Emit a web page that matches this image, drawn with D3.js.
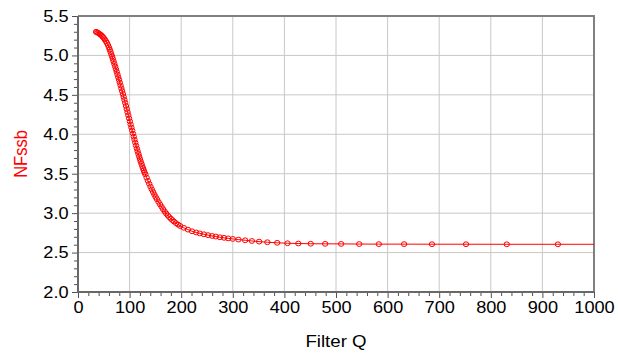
<!DOCTYPE html>
<html>
<head>
<meta charset="utf-8">
<script src="https://cdn.jsdelivr.net/npm/d3@7"></script>
<style>
body { margin: 0; background: #fff; }
svg { display: block; font-family: "Liberation Sans", Arial, sans-serif; }
</style>
</head>
<body>
<div id="chart"></div>
<script>
// Filter Q sweep
const qValues = [
    35, 36, 38, 40, 42, 44, 46, 48, 50, 52, 54, 56, 58, 60,
    61.5, 63, 64.5, 66, 67.5, 69, 70.5, 72, 73.5, 75, 76.5, 78, 79.5, 81, 82.5, 84,
    85.5, 87, 88.5, 90, 91.5, 93, 94.5, 96, 97.5, 99, 100.5, 102, 103.5, 105,
    106.5, 108, 109.5, 111, 112.5, 114, 115.5, 117, 118.5, 120, 121.5, 123, 124.5, 126,
    127.5, 129, 130.5,
    133, 135.5, 138, 140.5, 143, 145.5, 148, 150.5, 153, 156, 159, 162, 165, 168,
    171, 174, 177, 180, 183, 186, 190, 194, 198,
    205, 213, 221, 229, 236, 244, 252, 260, 267, 275, 283, 291, 300, 311, 324, 337,
    351, 367, 386, 406, 427, 451, 479, 510, 545, 583, 632, 686, 752, 831, 930, 1050
];
const nfValues = [
    5.299, 5.296, 5.289, 5.281, 5.272, 5.262, 5.250, 5.236, 5.220, 5.202, 5.182, 5.159, 5.132, 5.102,
    5.074, 5.046, 5.017, 4.987, 4.956, 4.924, 4.892, 4.859, 4.826, 4.792, 4.758, 4.724, 4.690, 4.655, 4.620, 4.584,
    4.548, 4.511, 4.474, 4.436, 4.398, 4.359, 4.320, 4.281, 4.242, 4.203, 4.164, 4.125, 4.086, 4.048,
    4.009, 3.970, 3.932, 3.894, 3.857, 3.821, 3.786, 3.752, 3.719, 3.687, 3.656, 3.626, 3.597, 3.569,
    3.542, 3.516, 3.491,
    3.450, 3.410, 3.372, 3.336, 3.301, 3.268, 3.236, 3.205, 3.176, 3.143, 3.111, 3.080, 3.050, 3.021,
    2.995, 2.971, 2.949, 2.929, 2.911, 2.894, 2.873, 2.854, 2.837,
    2.814, 2.791, 2.770, 2.755, 2.743, 2.732, 2.721, 2.711, 2.703, 2.694, 2.687, 2.680, 2.673, 2.665, 2.656, 2.647,
    2.639, 2.631, 2.624, 2.618, 2.615, 2.612, 2.611, 2.610, 2.608, 2.607, 2.607, 2.606, 2.606, 2.605, 2.605, 2.605
];
const xTicks = [0, 100, 200, 300, 400, 500, 600, 700, 800, 900, 1000];
const yTicks = [2.0, 2.5, 3.0, 3.5, 4.0, 4.5, 5.0, 5.5];

const W = 618, H = 354;
const plotLeft = 78, plotRight = 594, plotTop = 16, plotBottom = 292;
const stretch = 'scale(1.1,1)';

const svg = d3.select('#chart').append('svg')
    .attr('width', W)
    .attr('height', H);

const x = d3.scaleLinear().domain([0, 1000]).range([plotLeft, plotRight]);
const y = d3.scaleLinear().domain([2, 5.5]).range([plotBottom, plotTop]);

// grid
svg.append('g').selectAll('line')
    .data(xTicks.slice(1, -1)).join('line')
    .attr('x1', d => x(d)).attr('x2', d => x(d))
    .attr('y1', plotTop).attr('y2', plotBottom)
    .attr('stroke', '#c8c8c8').attr('stroke-width', 1);
svg.append('g').selectAll('line')
    .data(yTicks.slice(1, -1)).join('line')
    .attr('x1', plotLeft).attr('x2', plotRight)
    .attr('y1', d => y(d)).attr('y2', d => y(d))
    .attr('stroke', '#c8c8c8').attr('stroke-width', 1);

// minor ticks
const xMinor = d3.range(0, 1001, 20).filter(d => d % 100 !== 0);
const yMinor = d3.range(20, 56).map(d => d / 10).filter(d => Math.round(d * 10) % 5 !== 0);

const xMinorAxis = svg.append('g')
    .attr('transform', `translate(0,${plotBottom})`)
    .call(d3.axisBottom(x).tickValues(xMinor).tickSize(4).tickFormat(''));
const yMinorAxis = svg.append('g')
    .attr('transform', `translate(${plotLeft},0)`)
    .call(d3.axisLeft(y).tickValues(yMinor).tickSize(4).tickFormat(''));

const xAxis = svg.append('g')
    .attr('transform', `translate(0,${plotBottom})`)
    .call(d3.axisBottom(x).tickValues(xTicks).tickSize(6).tickPadding(3).tickFormat(d3.format('d')));
const yAxis = svg.append('g')
    .attr('transform', `translate(${plotLeft},0)`)
    .call(d3.axisLeft(y).tickValues(yTicks).tickSize(6).tickPadding(3).tickFormat(d3.format('.1f')));

[xMinorAxis, yMinorAxis, xAxis, yAxis].forEach(a => {
    a.select('.domain').remove();
    a.selectAll('line').attr('stroke', '#505050');
});
xAxis.selectAll('text')
    .attr('font-size', 16.5).attr('fill', '#000')
    .attr('transform', stretch);
yAxis.selectAll('text')
    .attr('font-size', 16.5).attr('fill', '#000')
    .attr('x', -8.6)
    .attr('transform', stretch);

// frame
svg.append('path')
    .attr('d', `M${plotLeft},${plotTop}H${plotRight}V${plotBottom}`)
    .attr('fill', 'none').attr('stroke', '#808080').attr('stroke-width', 2);
svg.append('path')
    .attr('d', `M${plotLeft},${plotTop}V${plotBottom}H${plotRight}`)
    .attr('fill', 'none').attr('stroke', '#686868').attr('stroke-width', 2);

// data
svg.append('clipPath').attr('id', 'plotClip')
    .append('rect')
    .attr('x', plotLeft).attr('y', plotTop)
    .attr('width', plotRight - plotLeft).attr('height', plotBottom - plotTop);

const points = qValues.map((q, i) => ({ q: q, nf: nfValues[i] }));
const plot = svg.append('g').attr('clip-path', 'url(#plotClip)');

plot.append('path')
    .datum(points)
    .attr('fill', 'none')
    .attr('stroke', '#ff0000')
    .attr('stroke-width', 1)
    .attr('d', d3.line().x(d => x(d.q)).y(d => y(d.nf)));

plot.selectAll('ellipse')
    .data(points).join('ellipse')
    .attr('cx', d => x(d.q))
    .attr('cy', d => y(d.nf))
    .attr('rx', 2.7)
    .attr('ry', 2.4)
    .attr('fill', 'none')
    .attr('stroke', '#ff0000')
    .attr('stroke-width', 1);

// titles
svg.append('text')
    .attr('transform', `translate(336,347) ${stretch}`)
    .attr('text-anchor', 'middle')
    .attr('font-size', 17)
    .attr('fill', '#000')
    .text('Filter Q');

svg.append('text')
    .attr('transform', `translate(27,154) ${stretch} rotate(-90)`)
    .attr('text-anchor', 'middle')
    .attr('font-size', 16.5)
    .attr('fill', '#ff0000')
    .text('NFssb');
</script>
</body>
</html>
